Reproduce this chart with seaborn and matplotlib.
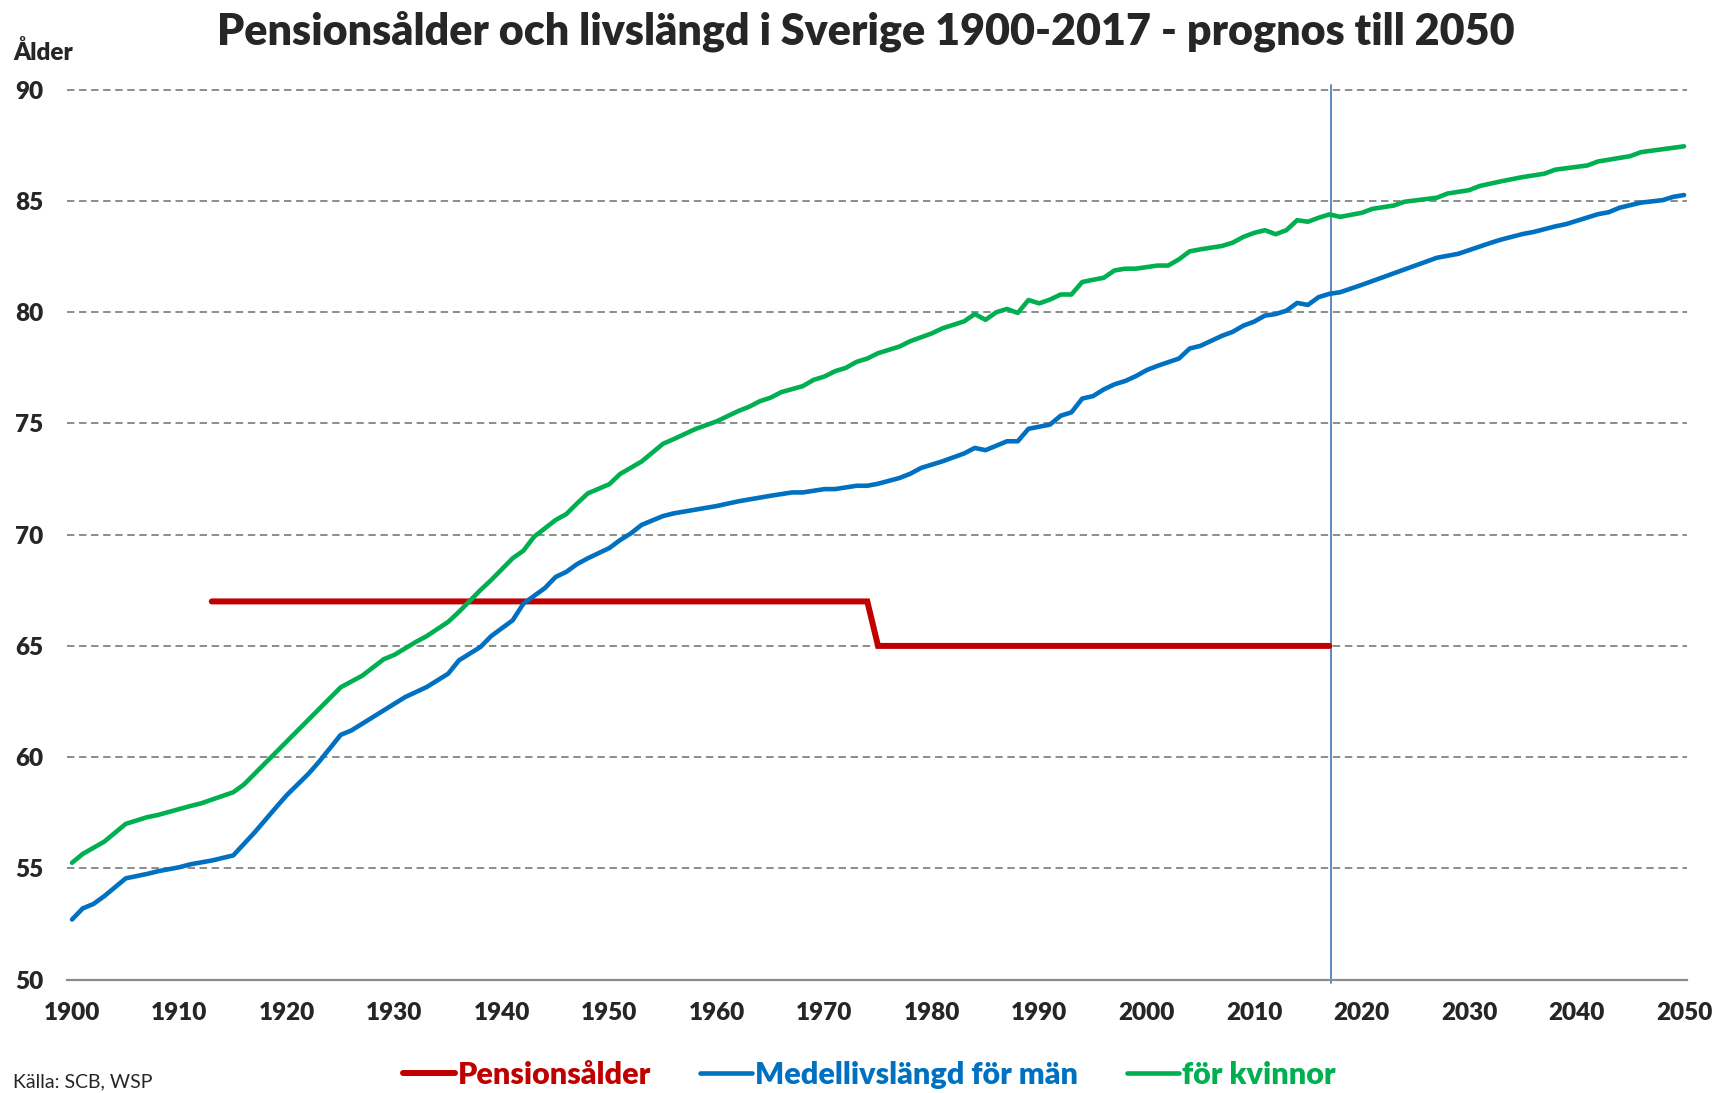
import numpy as np
import pandas as pd
import matplotlib
matplotlib.use("Agg")
import matplotlib.pyplot as plt
import seaborn as sns

# Pensionsålder (retirement age)
pension_years = [1913, 1974, 1975, 2017]
pension_age = [67, 67, 65, 65]

# Medellivslängd för män (life expectancy, men)
men_years = [1900, 1901, 1902, 1903, 1904, 1905, 1907, 1908, 1910, 1911, 1913, 1915,
             1917, 1919, 1920, 1922, 1923, 1925, 1926, 1927, 1929, 1931, 1933, 1935,
             1936, 1938, 1939, 1941, 1942, 1944, 1945, 1946, 1947, 1948, 1950, 1951,
             1952, 1953, 1955, 1956, 1960, 1962, 1965, 1967, 1968, 1970, 1971, 1973,
             1974, 1975, 1977, 1978, 1979, 1981, 1983, 1984, 1985, 1986, 1987, 1988,
             1989, 1991, 1992, 1993, 1994, 1995, 1996, 1997, 1998, 1999, 2000, 2001,
             2003, 2004, 2005, 2007, 2008, 2009, 2010, 2011, 2012, 2013, 2014, 2015,
             2016, 2017, 2018, 2020, 2027, 2029, 2032, 2033, 2035, 2036, 2038, 2039,
             2042, 2043, 2044, 2046, 2048, 2049, 2050]
men_age = [52.7, 53.2, 53.4, 53.75, 54.15, 54.55, 54.75, 54.87, 55.05, 55.18, 55.35, 55.58,
           56.62, 57.75, 58.3, 59.25, 59.8, 61.0, 61.2, 61.5, 62.1, 62.7, 63.15, 63.75,
           64.35, 64.95, 65.44, 66.15, 66.9, 67.6, 68.1, 68.33, 68.68, 68.94, 69.4, 69.76,
           70.06, 70.44, 70.84, 70.96, 71.29, 71.5, 71.75, 71.9, 71.9, 72.05, 72.05, 72.2,
           72.2, 72.29, 72.55, 72.74, 73.0, 73.3, 73.65, 73.9, 73.8, 74.0, 74.2, 74.2,
           74.76, 74.95, 75.35, 75.5, 76.12, 76.23, 76.53, 76.76, 76.91, 77.13, 77.4, 77.59,
           77.92, 78.37, 78.49, 78.94, 79.12, 79.4, 79.58, 79.85, 79.92, 80.07, 80.42, 80.33,
           80.68, 80.83, 80.9, 81.23, 82.45, 82.63, 83.12, 83.27, 83.52, 83.61, 83.86, 83.96,
           84.41, 84.5, 84.7, 84.93, 85.04, 85.19, 85.27]

# för kvinnor (life expectancy, women)
women_years = [1900, 1901, 1903, 1905, 1907, 1908, 1911, 1912, 1915, 1916, 1925, 1927,
               1929, 1930, 1932, 1933, 1935, 1936, 1938, 1939, 1941, 1942, 1943, 1945,
               1946, 1947, 1948, 1950, 1951, 1953, 1955, 1956, 1958, 1960, 1962, 1963,
               1964, 1965, 1966, 1968, 1969, 1970, 1971, 1972, 1973, 1974, 1975, 1977,
               1978, 1980, 1981, 1983, 1984, 1985, 1986, 1987, 1988, 1989, 1990, 1991,
               1992, 1993, 1994, 1995, 1996, 1997, 1998, 1999, 2001, 2002, 2003, 2004,
               2005, 2007, 2008, 2009, 2010, 2011, 2012, 2013, 2014, 2015, 2016, 2017,
               2018, 2020, 2021, 2023, 2024, 2027, 2028, 2030, 2031, 2033, 2035, 2037,
               2038, 2041, 2042, 2045, 2046, 2050]
women_age = [55.25, 55.65, 56.2, 57.0, 57.3, 57.4, 57.8, 57.92, 58.42, 58.77, 63.14, 63.66,
             64.4, 64.6, 65.18, 65.44, 66.08, 66.53, 67.51, 67.96, 68.94, 69.28, 69.91, 70.66,
             70.93, 71.41, 71.86, 72.27, 72.73, 73.29, 74.09, 74.3, 74.75, 75.1, 75.56, 75.75,
             76.0, 76.16, 76.41, 76.68, 76.96, 77.11, 77.35, 77.5, 77.77, 77.92, 78.16, 78.46,
             78.7, 79.05, 79.28, 79.59, 79.92, 79.66, 80.0, 80.15, 79.97, 80.55, 80.4, 80.57,
             80.8, 80.8, 81.36, 81.46, 81.55, 81.88, 81.96, 81.96, 82.1, 82.1, 82.38, 82.74,
             82.83, 82.98, 83.13, 83.39, 83.57, 83.69, 83.51, 83.69, 84.14, 84.07, 84.25, 84.4,
             84.29, 84.47, 84.65, 84.8, 84.97, 85.15, 85.34, 85.49, 85.68, 85.89, 86.08, 86.23,
             86.41, 86.6, 86.78, 87.02, 87.2, 87.46]

forecast_start = 2017
x_ticks = list(range(1900, 2051, 10))
y_ticks = [50, 55, 60, 65, 70, 75, 80, 85, 90]

RED = "#C00000"
BLUE = "#0070C0"
GREEN = "#00B050"
HEAVY = "heavy"

sns.set_style("white")
plt.rcParams["font.family"] = ["Lato", "DejaVu Sans"]

fig = plt.figure(figsize=(17.18, 10.93), dpi=100)
ax = fig.add_axes([0.0388, 0.1038, 0.9430, 0.8140])

sns.lineplot(x=pension_years, y=pension_age, ax=ax, color=RED, linewidth=4.3,
             label="Pensionsålder", solid_capstyle="round", solid_joinstyle="miter")
sns.lineplot(x=men_years, y=men_age, ax=ax, color=BLUE, linewidth=3.3,
             label="Medellivslängd för män", solid_capstyle="round")
sns.lineplot(x=women_years, y=women_age, ax=ax, color=GREEN, linewidth=3.3,
             label="för kvinnor", solid_capstyle="round")

# forecast marker
ax.axvline(forecast_start + 0.15, ymin=-0.004, ymax=1.006, color="#4F81BD",
           linewidth=1.3, clip_on=False, zorder=1)

ax.set_xlim(1899.5, 2050.25)
ax.set_ylim(50, 90)
ax.set_xticks(x_ticks)
ax.set_yticks(y_ticks)
ax.set_xlabel("")
ax.set_ylabel("")
ax.tick_params(axis="both", length=0, labelsize=17.5)
ax.tick_params(axis="y", pad=17)
ax.tick_params(axis="x", pad=16)
for lab in ax.get_xticklabels() + ax.get_yticklabels():
    lab.set_fontweight(HEAVY)

ax.yaxis.grid(True, linestyle=(0, (3.8, 2.4)), color="#8c8c8c", linewidth=1.4)
ax.xaxis.grid(False)
for gl in ax.get_ygridlines():
    gl.set_clip_on(False)
for side in ["top", "left", "right"]:
    ax.spines[side].set_visible(False)
ax.spines["bottom"].set_color("#8c8c8c")
ax.spines["bottom"].set_linewidth(1.6)

handles, labels = ax.get_legend_handles_labels()
ax.get_legend().remove()
fig.legend(handles, labels, loc="center", bbox_to_anchor=(0.506, 0.0165), ncol=3,
           frameon=False, handlelength=1.7, handletextpad=0.1, columnspacing=1.6,
           labelcolor="linecolor", prop={"weight": HEAVY, "size": 22})

fig.text(0.504, 0.9716, "Pensionsålder och livslängd i Sverige 1900-2017 - prognos till 2050",
         ha="center", va="center", fontsize=31, fontweight=HEAVY)
fig.text(0.0076, 0.952, "Ålder", ha="left", va="center", fontsize=17.5, fontweight=HEAVY)
fig.text(0.0076, 0.002, "Källa: SCB, WSP", ha="left", va="bottom", fontsize=14)

fig.savefig("out.png", dpi=100)
